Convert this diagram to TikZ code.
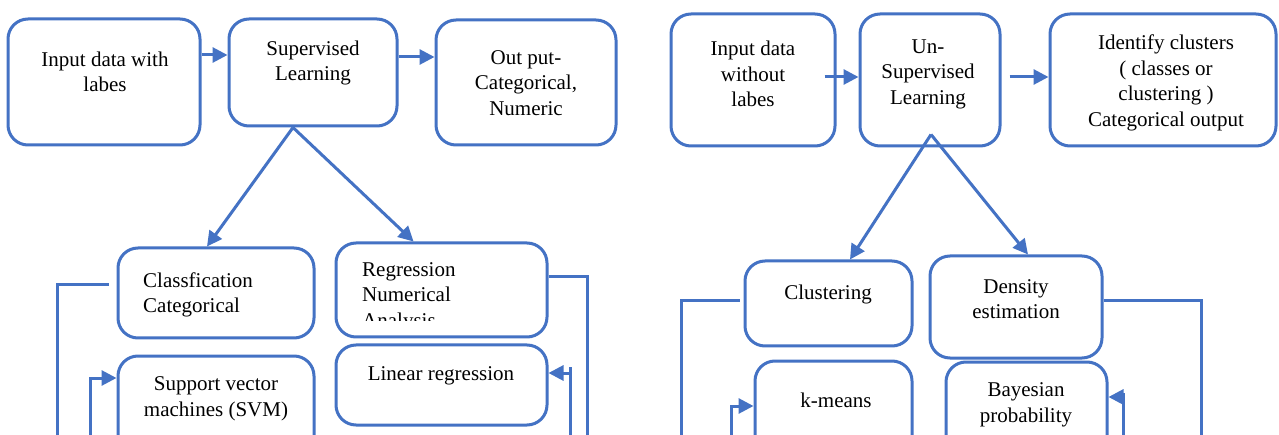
\documentclass[tikz,border=0pt]{standalone}
\usepackage{fontspec}
\setmainfont{Liberation Serif}
\usetikzlibrary{arrows.meta}
\definecolor{flowblue}{HTML}{4472C4}
\tikzset{
  box/.style={draw=flowblue, line width=3pt, rounded corners=20pt, inner sep=0pt},
  txt/.style={inner sep=0pt, align=center, font=\fontsize{21}{25.5}\selectfont},
  link/.style={draw=flowblue, line width=3pt},
  arr/.style={link, -{Triangle[length=15pt,width=15pt]}},
}
\begin{document}
\begin{tikzpicture}[x=1pt,y=-1pt]
\clip (0,0) rectangle (1279,435);
\fill[white] (0,0) rectangle (1279,435);

% ---------- supervised branch ----------
\node[box, minimum width=192pt, minimum height=126pt] (A) at (104,82) {};
\node[box, minimum width=168pt, minimum height=107pt] (B) at (313,72.5) {};
\node[box, minimum width=180pt, minimum height=125pt] (C) at (526,82.5) {};
\node[box, minimum width=196pt, minimum height=90pt] (Cls) at (216,293) {};
\node[box, minimum width=211pt, minimum height=94pt] (Reg) at (441.5,290) {};
\node[box, minimum width=196pt, minimum height=124pt] (SVM) at (216,418) {};
\node[box, minimum width=211pt, minimum height=80pt] (Lin) at (441.5,385) {};

\node[txt] (tA) at (105,72) {Input data with\\labes};
\node[txt] (tB) at (313,63) {Supervised\\Learning};
\node[txt] (tC) at (526,83) {Out put-\\Categorical,\\Numeric};
\node[txt, align=left, anchor=west] (tCls) at (143,295) {Classfication\\Categorical};
\begin{scope}
  \clip (340,250) rectangle (540,321);
  \node[txt, align=left, anchor=west] (tReg) at (362,297) {Regression\\Numerical\\Analysis};
\end{scope}
\node[txt] (tSVM) at (216,399) {Support vector\\machines (SVM)};
\node[txt] (tLin) at (441,376) {Linear regression};

\coordinate (rowAB) at (0,55);
\coordinate (rowBC) at (0,57);
\draw[arr] (A.east |- rowAB) -- (B.west |- rowAB);
\draw[arr] (B.east |- rowBC) -- (C.west |- rowBC);
\draw[arr] ([xshift=-20pt]B.south) -- ([xshift=-9pt]Cls.north);
\draw[arr] ([xshift=-20pt]B.south) -- ([xshift=-28pt]Reg.north);

\coordinate (railA) at (57,445);
\coordinate (railB) at (587,445);
\coordinate (railC) at (90,445);
\coordinate (railD) at (570,445);
\coordinate (ltop) at (570,367);
\coordinate (linin) at ([yshift=12pt]Lin.east);
\draw[link] ([xshift=-8pt,yshift=8pt]Cls.west) -| (railA);
\draw[link] ([yshift=13pt]Reg.east) -| (railB);
\draw[arr] (railC) |- ([yshift=40pt]SVM.west);
\draw[link] (railD) -- (ltop);
\draw[arr] (linin -| ltop) -- (linin);

% ---------- unsupervised branch ----------
\node[box, minimum width=164pt, minimum height=132pt] (I2) at (753,80) {};
\node[box, minimum width=140pt, minimum height=132pt] (U) at (930,80) {};
\node[box, minimum width=226pt, minimum height=132pt] (Id) at (1163,80) {};
\node[box, minimum width=167pt, minimum height=85pt] (Clu) at (828.5,303.5) {};
\node[box, minimum width=172pt, minimum height=102pt] (Den) at (1016,307) {};
\node[box, minimum width=157pt, minimum height=119pt] (Km) at (833.5,420.5) {};
\node[box, minimum width=161pt, minimum height=118pt] (Bay) at (1026.5,421) {};

\node[txt] (tI2) at (753,74) {Input data\\without\\labes};
\node[txt] (tU) at (928,74) {Un-\\Supervised\\Learning};
\node[txt] (tId) at (1166,83) {Identify clusters\\( classes or\\clustering )\\Categorical output};
\node[txt] (tClu) at (828,294) {Clustering};
\node[txt] (tDen) at (1016,299) {Density\\estimation};
\node[txt] (tKm) at (836,400) {k-means};
\node[txt] (tBay) at (1026,405) {Bayesian\\probability};

\coordinate (rowIU) at (0,77);
\draw[arr] ([xshift=-12pt]I2.east |- rowIU) -- (U.west |- rowIU);
\draw[arr] ([xshift=8pt]U.east |- rowIU) -- (Id.west |- rowIU);
\coordinate (uap) at ([xshift=1pt,yshift=13pt]U.south);
\draw[arr] (uap) -- ([xshift=21.5pt]Clu.north);
\draw[arr] (uap) -- ([xshift=12pt]Den.north);

\coordinate (railE) at (681,445);
\coordinate (railF) at (1201,445);
\coordinate (railG) at (731,445);
\coordinate (railH) at (1123,445);
\coordinate (btop) at (1123,393);
\coordinate (bayin) at ([yshift=24pt]Bay.east);
\draw[link] ([xshift=-4pt,yshift=2.5pt]Clu.west) -| (railE);
\draw[link] ([yshift=6pt]Den.east) -| (railF);
\draw[arr] (railG) |- ([yshift=14.5pt]Km.west);
\draw[link] (railH) -- (btop);
\draw[arr] (bayin -| btop) -- (bayin);
\end{tikzpicture}
\end{document}
